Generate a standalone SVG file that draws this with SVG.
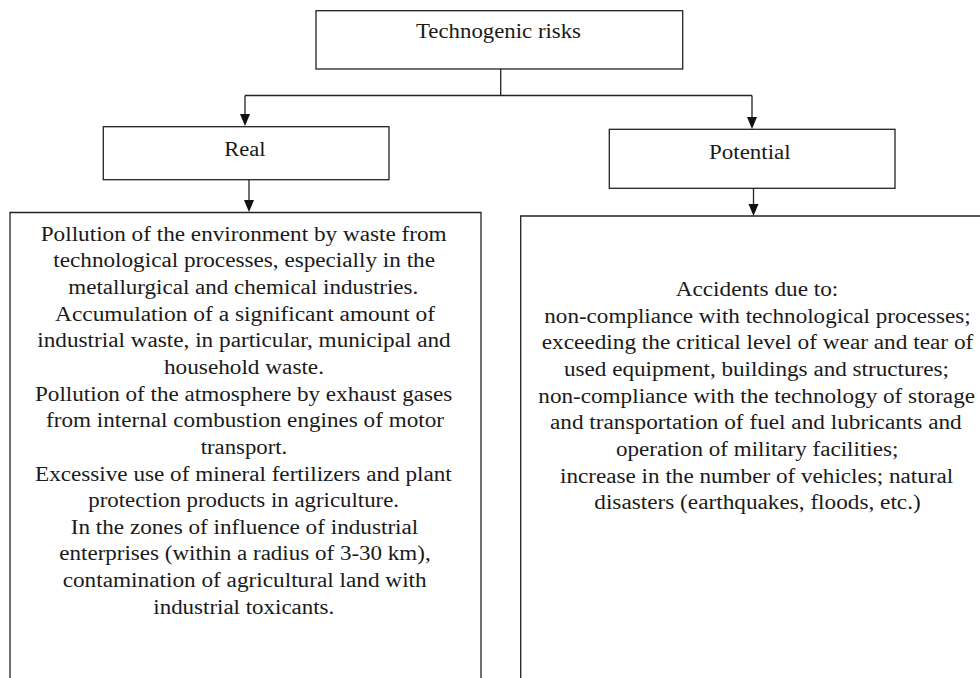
<svg xmlns="http://www.w3.org/2000/svg" width="980" height="678" viewBox="0 0 980 678">
<style>
.box{fill:#fff;stroke:#222;stroke-width:1.3}
.t{font-family:"Liberation Serif","Times New Roman",serif;font-size:20px;fill:#1a1a1a}
.c{fill:none;stroke:#222;stroke-width:1.3}
.h{fill:#111}
</style>
<rect width="980" height="678" fill="#fff"/>
<g id="connectors">
<path class="c" d="M500.7,69 V95.5"/>
<path class="c" d="M245,95.5 H752"/>
<line class="c" x1="245" y1="95.5" x2="245" y2="120"/>
<line class="c" x1="752" y1="95.5" x2="752" y2="123"/>
<line class="c" x1="249" y1="180" x2="249" y2="206"/>
<line class="c" x1="753.5" y1="188" x2="753.5" y2="210"/>
<path class="h" d="M240,114 L250,114 L245,126 Z"/>
<path class="h" d="M747,117 L757,117 L752,129 Z"/>
<path class="h" d="M244,200 L254,200 L249,212 Z"/>
<path class="h" d="M748.5,204 L758.5,204 L753.5,216 Z"/>
</g>
<g id="technogenic-risks">
<rect class="box" x="316" y="10.7" width="366.7" height="58.3"/>
<text class="t" x="416" y="38" textLength="165" lengthAdjust="spacingAndGlyphs">Technogenic  risks</text>
</g>
<g id="real">
<rect class="box" x="103.3" y="126.7" width="285.7" height="53"/>
<text class="t" x="224.3" y="156" textLength="41.3" lengthAdjust="spacingAndGlyphs">Real</text>
</g>
<g id="potential">
<rect class="box" x="609.3" y="129.3" width="285.7" height="59"/>
<text class="t" x="709" y="159.3" textLength="81.7" lengthAdjust="spacingAndGlyphs">Potential</text>
</g>
<g id="real-details">
<path class="box" d="M10,690 V212.5 H481 V690"/>
<text class="t" x="40.7" y="240.7" textLength="406" lengthAdjust="spacingAndGlyphs">Pollution of the environment by waste from</text>
<text class="t" x="53.3" y="267" textLength="381.7" lengthAdjust="spacingAndGlyphs">technological processes, especially in the</text>
<text class="t" x="68.3" y="293.5" textLength="350" lengthAdjust="spacingAndGlyphs">metallurgical and chemical industries.</text>
<text class="t" x="55" y="320.5" textLength="380" lengthAdjust="spacingAndGlyphs">Accumulation of a significant amount of</text>
<text class="t" x="37.3" y="347" textLength="413.4" lengthAdjust="spacingAndGlyphs">industrial waste, in particular, municipal and</text>
<text class="t" x="164" y="374" textLength="160" lengthAdjust="spacingAndGlyphs">household waste.</text>
<text class="t" x="35" y="400.7" textLength="417.3" lengthAdjust="spacingAndGlyphs">Pollution of the atmosphere by exhaust gases</text>
<text class="t" x="46" y="427" textLength="398" lengthAdjust="spacingAndGlyphs">from internal combustion engines of motor</text>
<text class="t" x="200.7" y="454" textLength="86.6" lengthAdjust="spacingAndGlyphs">transport.</text>
<text class="t" x="35" y="480.7" textLength="416.7" lengthAdjust="spacingAndGlyphs">Excessive use of mineral fertilizers and plant</text>
<text class="t" x="88.3" y="507.3" textLength="310.7" lengthAdjust="spacingAndGlyphs">protection products in agriculture.</text>
<text class="t" x="70.7" y="534" textLength="347.6" lengthAdjust="spacingAndGlyphs">In the zones of influence of industrial</text>
<text class="t" x="59.3" y="560.3" textLength="371.4" lengthAdjust="spacingAndGlyphs">enterprises (within a radius of 3-30 km),</text>
<text class="t" x="62.7" y="587" textLength="364" lengthAdjust="spacingAndGlyphs">contamination of agricultural land with</text>
<text class="t" x="153.3" y="613.5" textLength="181" lengthAdjust="spacingAndGlyphs">industrial toxicants.</text>
</g>
<g id="potential-details">
<path class="box" d="M520.7,690 V216 H1000 V690"/>
<text class="t" x="675.7" y="295.7" textLength="162.6" lengthAdjust="spacingAndGlyphs">Accidents due to:</text>
<text class="t" x="544.3" y="322.7" textLength="426.4" lengthAdjust="spacingAndGlyphs">non-compliance with technological processes;</text>
<text class="t" x="541.7" y="349.3" textLength="431.6" lengthAdjust="spacingAndGlyphs">exceeding the critical level of wear and tear of</text>
<text class="t" x="564" y="376" textLength="385" lengthAdjust="spacingAndGlyphs">used equipment, buildings and structures;</text>
<text class="t" x="538.3" y="402.7" textLength="436.7" lengthAdjust="spacingAndGlyphs">non-compliance with the technology of storage</text>
<text class="t" x="550" y="429.3" textLength="411.7" lengthAdjust="spacingAndGlyphs">and transportation of fuel and lubricants and</text>
<text class="t" x="616" y="456" textLength="282.3" lengthAdjust="spacingAndGlyphs">operation of military facilities;</text>
<text class="t" x="560" y="482.7" textLength="393.3" lengthAdjust="spacingAndGlyphs">increase in the number of vehicles; natural</text>
<text class="t" x="594.3" y="509.3" textLength="326.4" lengthAdjust="spacingAndGlyphs">disasters (earthquakes, floods, etc.)</text>
</g>
</svg>
